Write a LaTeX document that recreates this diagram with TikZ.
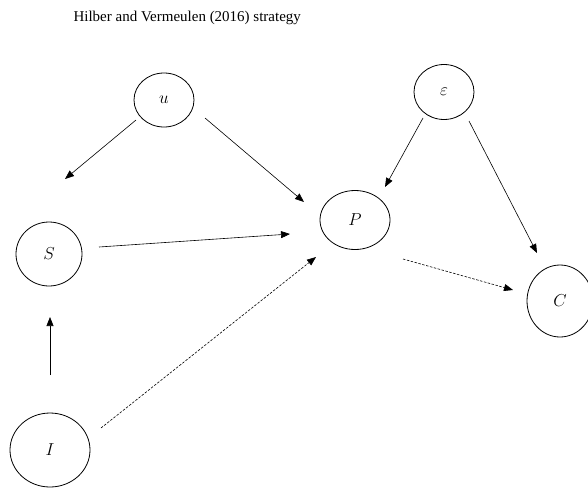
\documentclass[tikz,border=0pt]{standalone}
\usepackage{fontspec}
\setmainfont{Liberation Serif}
\usetikzlibrary{shapes.geometric,arrows.meta,calc}
\begin{document}
\begin{tikzpicture}[x=1pt,y=-1pt,
  var/.style={draw,ellipse,line width=0.8pt,inner sep=0pt,font=\fontsize{17}{17}\selectfont},
  link/.style={line width=0.6pt,-{Triangle[length=9pt,width=7pt]}},
  dlink/.style={link,dash pattern=on 2.5pt off 1.5pt}]
\useasboundingbox (0,0) rectangle (588,490);
\node[anchor=base west,font=\fontsize{15}{15}\selectfont] (title) at (70,21) {Hilber and Vermeulen (2016) strategy};
\node[var,minimum width=60pt,minimum height=54pt] (u) at (164,100) {$u$};
\node[var,minimum width=60pt,minimum height=55pt] (eps) at (444,92) {$\varepsilon$};
\node[var,minimum width=70pt,minimum height=59pt] (P) at (355,220) {$P$};
\node[var,minimum width=66pt,minimum height=64pt] (S) at (49,254) {$S$};
\node[var,minimum width=80pt,minimum height=74pt] (I) at (50,450) {$I$};
\node[var,minimum width=66pt,minimum height=72pt] (C) at (560,301) {$C$};
\draw[link] ($(u)+(-28,20)$) -- ($(S)+(16,-75)$);
\draw[link] ($(u)+(41,18)$) -- ($(P)+(-51,-18)$);
\draw[link] ($(S)+(50,-7)$) -- ($(P)+(-65,14)$);
\draw[dlink] ($(I)+(51,-22)$) -- ($(P)+(-39,37)$);
\draw[link] ($(I)+(0,-75)$) -- ($(S)+(1,63)$);
\draw[link] ($(eps)+(-21,26)$) -- ($(P)+(30,-33)$);
\draw[link] ($(eps)+(25,29)$) -- ($(C)+(-23,-48)$);
\draw[dlink] ($(P)+(48,39)$) -- ($(C)+(-47,-11)$);
\end{tikzpicture}
\end{document}
